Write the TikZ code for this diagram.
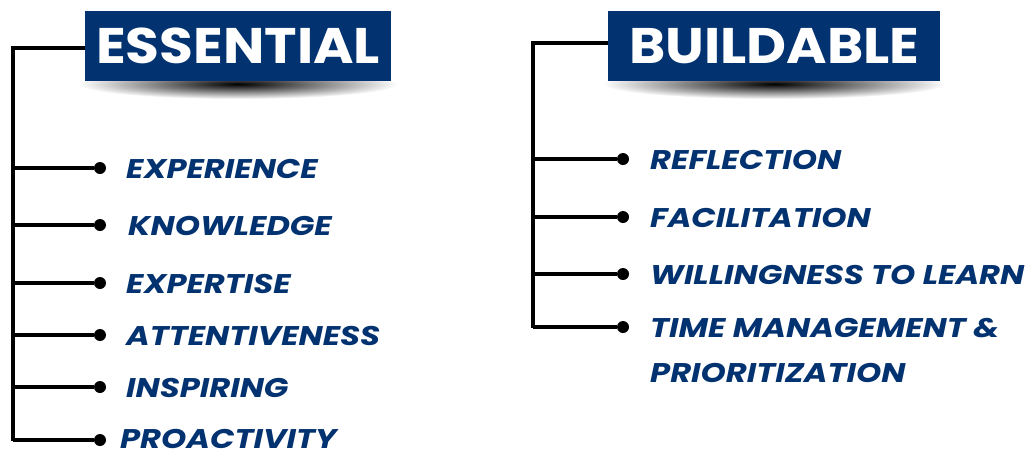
\documentclass[tikz,border=0pt]{standalone}
\usepackage{fontspec}
\setmainfont{Poppins}
\newfontfamily\widefont[FakeStretch=1.19]{Poppins}
\newfontfamily\titlefont[FakeStretch=1.1]{Poppins}
\definecolor{navy}{RGB}{3,50,112}
\tikzset{
  titlebox/.style={fill=navy,text=white,inner sep=0pt,anchor=north west,
    font=\titlefont\bfseries\fontsize{50}{52}\selectfont},
  branch/.style={line width=3.2pt,black},
  bullet/.style={circle,fill=black,inner sep=0pt,minimum size=12pt},
  item/.style={text=navy,inner sep=0pt,anchor=base west,
    font=\widefont\bfseries\itshape\fontsize{27}{29}\selectfont}
}
\begin{document}
\begin{tikzpicture}[x=1pt,y=-1pt]
  \useasboundingbox (0,0) rectangle (1029,456);
  % shadows under the titles
  \shade[inner color=black,outer color=white] (238,84) ellipse (160 and 15);
  \shade[inner color=black,outer color=white] (774,84) ellipse (172 and 15);
  \fill[white] (60,60) rectangle (980,81);
  % titles
  \node[titlebox,minimum width=306pt,minimum height=70pt] (ess) at (85,11) {ESSENTIAL};
  \node[titlebox,minimum width=332pt,minimum height=70pt] (bld) at (608,11) {BUILDABLE};
  % left tree
  \coordinate (eroot) at (13,48);
  \draw[branch] (ess.west|-eroot) -- (eroot) -- (13,441);
  \foreach \y/\b/\x/\t [count=\i] in {168/178/126/EXPERIENCE,225/235/128/KNOWLEDGE,
      283/293/126/EXPERTISE,335/345/126/ATTENTIVENESS,387/397/126/INSPIRING,
      440/448/120/PROACTIVITY}{
    \node[bullet] (e\i) at (100,\y) {};
    \draw[branch] (eroot|-e\i) -- (e\i);
    \node[item] (et\i) at (\x,\b) {\t};
  }
  % right tree
  \coordinate (broot) at (533,43);
  \draw[branch] (bld.west|-broot) -- (broot) -- (533,328);
  \foreach \y/\t [count=\i] in {159/REFLECTION,217/FACILITATION,274/WILLINGNESS TO LEARN,
      327/TIME MANAGEMENT \&}{
    \node[bullet] (b\i) at (623,\y) {};
    \draw[branch] (broot|-b\i) -- (b\i);
    \node[item] (bt\i) at (650,\y+10) {\t};
  }
  \node[item] (bt5) at (650,382) {PRIORITIZATION};
\end{tikzpicture}
\end{document}
